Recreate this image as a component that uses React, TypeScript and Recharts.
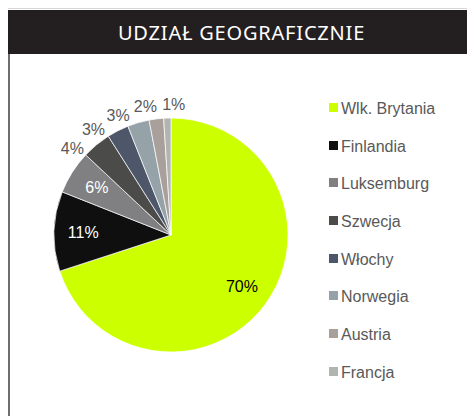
import React from "react";
import { PieChart, Pie, Cell, Legend } from "recharts";

// udział geograficzny portfela (%)
const countries = [
  "Wlk. Brytania",
  "Finlandia",
  "Luksemburg",
  "Szwecja",
  "Włochy",
  "Norwegia",
  "Austria",
  "Francja",
];
const shares = [70, 11, 6, 4, 3, 3, 2, 1];
const colors = [
  "#ccff00",
  "#0f0f0f",
  "#808083",
  "#4b4b49",
  "#4e5769",
  "#95a2a8",
  "#a9a09c",
  "#b1b5af",
];
// etykiety wewnątrz wycinka (biały / czarny tekst), pozostałe na zewnątrz
const insideLabelColor: Record<string, string> = {
  "Wlk. Brytania": "#000000",
  Finlandia: "#ffffff",
  Luksemburg: "#ffffff",
};

const data = countries.map((name, i) => ({ name, value: shares[i] }));

const RADIAN = Math.PI / 180;
const TEXT_GRAY = "#595959";
const MIN_GAP = 12.5; // min. odstęp kątowy między etykietami zewnętrznymi

// kąty etykiet zewnętrznych (stopnie zgodnie z zegarem od góry), rozsunięte jak w Excelu
const total = shares.reduce((a, b) => a + b, 0);
const labelAngles: number[] = [];
{
  let cum = 0;
  const mids = shares.map((v) => {
    const m = ((cum + v / 2) / total) * 360;
    cum += v;
    return m;
  });
  for (let i = mids.length - 1; i >= 0; i--) {
    const next = labelAngles[i + 1];
    labelAngles[i] =
      next === undefined || insideLabelColor[countries[i]]
        ? mids[i]
        : Math.min(mids[i], next - MIN_GAP);
  }
  for (let i = 0; i < labelAngles.length; i++) {
    if (!insideLabelColor[countries[i]]) labelAngles[i] += 3;
  }
}

const renderLabel = (props: any) => {
  const { cx, cy, midAngle, outerRadius, payload, value, index } = props;
  const inside = insideLabelColor[payload.name];
  let r: number;
  let angle = midAngle;
  if (inside) {
    r = outerRadius * 0.75;
  } else {
    r = outerRadius + 14;
    angle = 90 - labelAngles[index];
  }
  const x = cx + r * Math.cos(-angle * RADIAN);
  const y = cy + r * Math.sin(-angle * RADIAN);
  return (
    <text
      x={x}
      y={y}
      fill={inside ?? TEXT_GRAY}
      textAnchor="middle"
      dominantBaseline="central"
      fontSize={16}
      fontFamily="'Liberation Sans', Arial, sans-serif"
    >
      {`${value}%`}
    </text>
  );
};

const renderLegend = () => (
  <div style={{ fontFamily: "'Liberation Sans', Arial, sans-serif" }}>
    {countries.map((name, i) => (
      <div
        key={name}
        style={{
          height: 37.7,
          display: "flex",
          alignItems: "flex-start",
          fontSize: 16,
          lineHeight: "18px",
          color: TEXT_GRAY,
        }}
      >
        <span
          style={{
            width: 9,
            height: 9,
            marginTop: 3,
            marginRight: 3,
            background: colors[i],
            display: "inline-block",
          }}
        />
        <span>{name}</span>
      </div>
    ))}
  </div>
);

export default function App() {
  return (
    <div style={{ width: 467, height: 408, position: "relative" }}>
      <div style={{ height: 1, background: "#d6d6d6" }} />
      <div style={{ height: 1, background: "#ffffff" }} />
      <div
        style={{
          height: 44,
          background: "#231f20",
          color: "#ffffff",
          display: "flex",
          alignItems: "center",
          justifyContent: "center",
          fontFamily: "'Noto Sans', sans-serif",
          fontWeight: 400,
          fontSize: 20,
          letterSpacing: 0.8,
        }}
      >
        UDZIAŁ GEOGRAFICZNIE
      </div>
      <div style={{ borderLeft: "2px solid #6e6e6e", height: 362 }}>
        <PieChart
          width={465}
          height={362}
          margin={{ top: 0, right: 0, bottom: 0, left: 0 }}
        >
          <Pie
            data={data}
            dataKey="value"
            nameKey="name"
            cx={161}
            cy={181}
            outerRadius={117}
            startAngle={90}
            endAngle={-270}
            stroke="#ffffff"
            strokeWidth={0.7}
            label={renderLabel}
            labelLine={false}
            isAnimationActive={false}
          >
            {data.map((d, i) => (
              <Cell key={d.name} fill={colors[i]} />
            ))}
          </Pie>
          <Legend
            content={renderLegend}
            layout="vertical"
            wrapperStyle={{ position: "absolute", left: 319, top: 46, width: 140 }}
          />
        </PieChart>
      </div>
    </div>
  );
}
